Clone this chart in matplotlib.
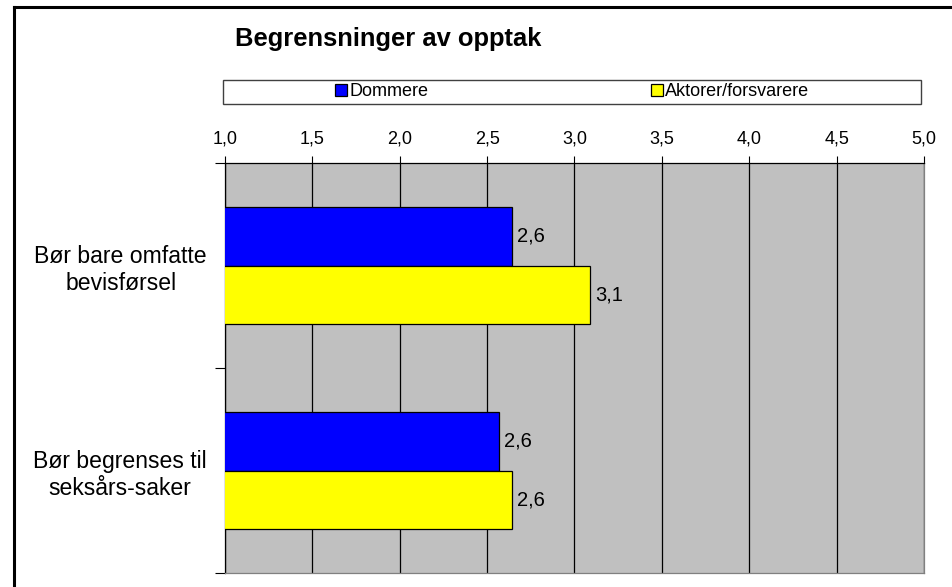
import numpy as np
import matplotlib
matplotlib.use('Agg')
import matplotlib.pyplot as plt
from matplotlib.lines import Line2D
from matplotlib.patches import Rectangle, Patch
from matplotlib.ticker import FuncFormatter, MultipleLocator

plt.rcParams['font.family'] = ['Liberation Sans', 'DejaVu Sans']

# data
categories = ['Bør bare omfatte\nbevisførsel', 'Bør begrenses til\nseksårs-saker']
series_names = ['Dommere', 'Aktorer/forsvarere']
dommere = [2.64, 2.57]
aktorer = [3.09, 2.64]
colors = ['#0000ff', '#ffff00']

W, H = 952, 587
fig = plt.figure(figsize=(W / 100, H / 100), dpi=100)
fig.patch.set_facecolor('white')

# thick frame at left/top of the chart object
fig.add_artist(Line2D([13.5 / W, 13.5 / W], [0, 1 - 7 / H], color='black', lw=2.2))
fig.add_artist(Line2D([13.5 / W, 1], [1 - 7 / H, 1 - 7 / H], color='black', lw=2.2))

ax = fig.add_axes([225 / W, 14 / H, 699 / W, 410 / H])
ax.set_facecolor('#c0c0c0')

y = np.arange(len(categories))
bh = 0.285
b1 = ax.barh(y - bh / 2, dommere, height=bh, left=0, color=colors[0], edgecolor='black', lw=0.9, zorder=3)
b2 = ax.barh(y + bh / 2, aktorer, height=bh, left=0, color=colors[1], edgecolor='black', lw=0.9, zorder=3)

ax.set_xlim(1, 5)
ax.set_ylim(len(categories) - 0.5, -0.5)

fmt = FuncFormatter(lambda v, p: ('%.1f' % v).replace('.', ','))
ax.xaxis.set_major_locator(MultipleLocator(0.5))
ax.xaxis.set_major_formatter(fmt)
ax.xaxis.tick_top()
ax.tick_params(axis='x', which='major', direction='out', length=5, width=0.8, pad=6, labelsize=13, color='black')
ax.grid(axis='x', color='black', lw=0.9, zorder=1)
ax.set_axisbelow(True)

ax.set_yticks(y)
ax.set_yticklabels(categories, multialignment='center', fontsize=16.6)
ax.set_yticks(np.arange(len(categories) + 1) - 0.5, minor=True)
ax.tick_params(axis='y', which='major', length=0, pad=13)
ax.tick_params(axis='y', which='minor', direction='out', length=7, width=0.8, color='black')

ax.spines['top'].set_color('black')
ax.spines['left'].set_color('black')
ax.spines['bottom'].set_color('#808080')
ax.spines['right'].set_color('#808080')
for s in ax.spines.values():
    s.set_linewidth(0.9)

# value labels
for bars, vals in [(b1, dommere), (b2, aktorer)]:
    for rect, v in zip(bars, vals):
        ax.annotate(('%.1f' % v).replace('.', ','),
                    xy=(v, rect.get_y() + rect.get_height() / 2),
                    xytext=(5, 0), textcoords='offset pixels',
                    ha='left', va='center', fontsize=14.5, zorder=4)

# title
fig.text(235 / W, 1 - 39 / H, 'Begrensninger av opptak', fontsize=18.4, fontweight='bold',
         ha='left', va='center')

# legend box with the two entries placed as in the reference
lx0, lx1, ly0, ly1 = 223, 921, 80, 104
fig.add_artist(Rectangle((lx0 / W, 1 - ly1 / H), (lx1 - lx0) / W, (ly1 - ly0) / H,
                         transform=fig.transFigure, facecolor='white', edgecolor='#404040', lw=1.0))
entry_x = [335, 651]
for i, name in enumerate(series_names):
    fig.legend(handles=[Patch(facecolor=colors[i], edgecolor='black', lw=0.9)], labels=[name],
               loc='center left', bbox_to_anchor=(entry_x[i] / W, 1 - (ly0 + ly1) / 2 / H),
               frameon=False, fontsize=13, handlelength=0.65, handleheight=0.65,
               handletextpad=0.15, borderpad=0, borderaxespad=0)

fig.savefig('out.png', dpi=100)
